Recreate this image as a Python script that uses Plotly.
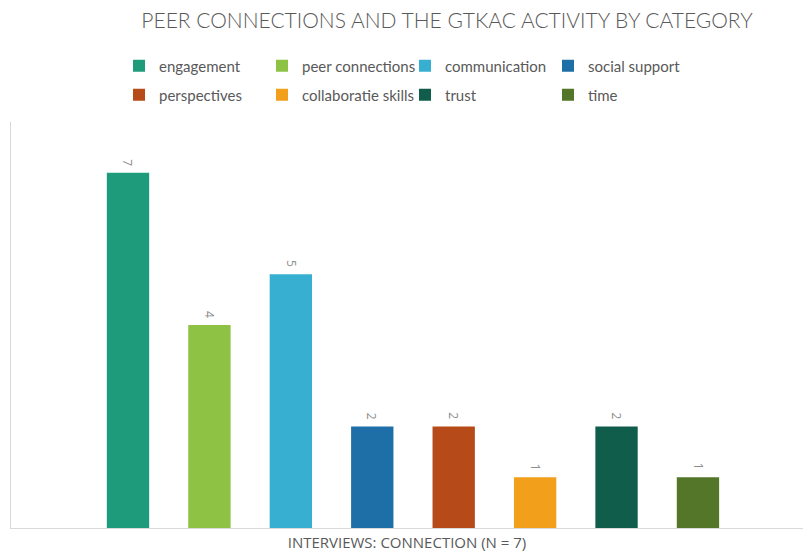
import plotly.graph_objects as go

# Interview coding counts for the GTKAC activity
categories = ["engagement", "peer connections", "communication", "social support",
              "perspectives", "collaboratie skills", "trust", "time"]
counts = [7, 4, 5, 2, 2, 1, 2, 1]
colors = ["#1E9B7B", "#8DC244", "#36AFD1", "#1E6EA8",
          "#B64A18", "#F29F1C", "#115D4B", "#547629"]

W, H = 803, 552

fig = go.Figure()
for i, (name, val, col) in enumerate(zip(categories, counts, colors)):
    fig.add_trace(go.Bar(
        x=[i], y=[val], name=name,
        marker=dict(color=col, line=dict(width=0)),
        width=0.52,
        # first four entries on the top legend row, the rest on the second
        legend="legend" if i < 4 else "legend2",
    ))
    # rotated value label just above each bar
    fig.add_annotation(
        x=i, y=val, text=str(val), showarrow=False,
        textangle=90, yanchor="bottom", yshift=5,
        font=dict(family="Open Sans", size=12, color="#8C8C8C"),
    )

legend_common = dict(
    orientation="h",
    xref="container", yref="container",
    x=119 / W, xanchor="left",
    yanchor="middle",
    entrywidth=98, entrywidthmode="pixels",
    font=dict(family="Lato", size=15, color="#595959"),
    traceorder="normal",
    bgcolor="rgba(0,0,0,0)",
)

fig.update_layout(
    width=W, height=H,
    margin=dict(l=11, r=0, t=122, b=24),
    paper_bgcolor="white", plot_bgcolor="white",
    barmode="overlay",
    title=dict(
        text="PEER CONNECTIONS AND THE GTKAC ACTIVITY BY CATEGORY",
        font=dict(family="Lato", size=21, color="#595959", weight=300),
        x=447 / W, xref="container", xanchor="center",
        y=1 - 21 / H, yref="container", yanchor="middle",
    ),
    legend=dict(legend_common, y=1 - 66 / H),
    legend2=dict(legend_common, y=1 - 95 / H),
    xaxis=dict(
        range=[-1.437, 8.29],
        showticklabels=False, ticks="", showgrid=False, zeroline=False,
        showline=True, linecolor="#D9D9D9", linewidth=1,
        title=dict(text="INTERVIEWS: CONNECTION (N = 7)",
                   font=dict(family="Open Sans", size=15, color="#595959"),
                   standoff=17),
        automargin=False,
    ),
    yaxis=dict(
        range=[0, 8],
        showticklabels=False, ticks="", showgrid=False, zeroline=False,
        showline=True, linecolor="#D9D9D9", linewidth=1,
        automargin=False,
    ),
    showlegend=True,
)

fig.write_html("out.html")
